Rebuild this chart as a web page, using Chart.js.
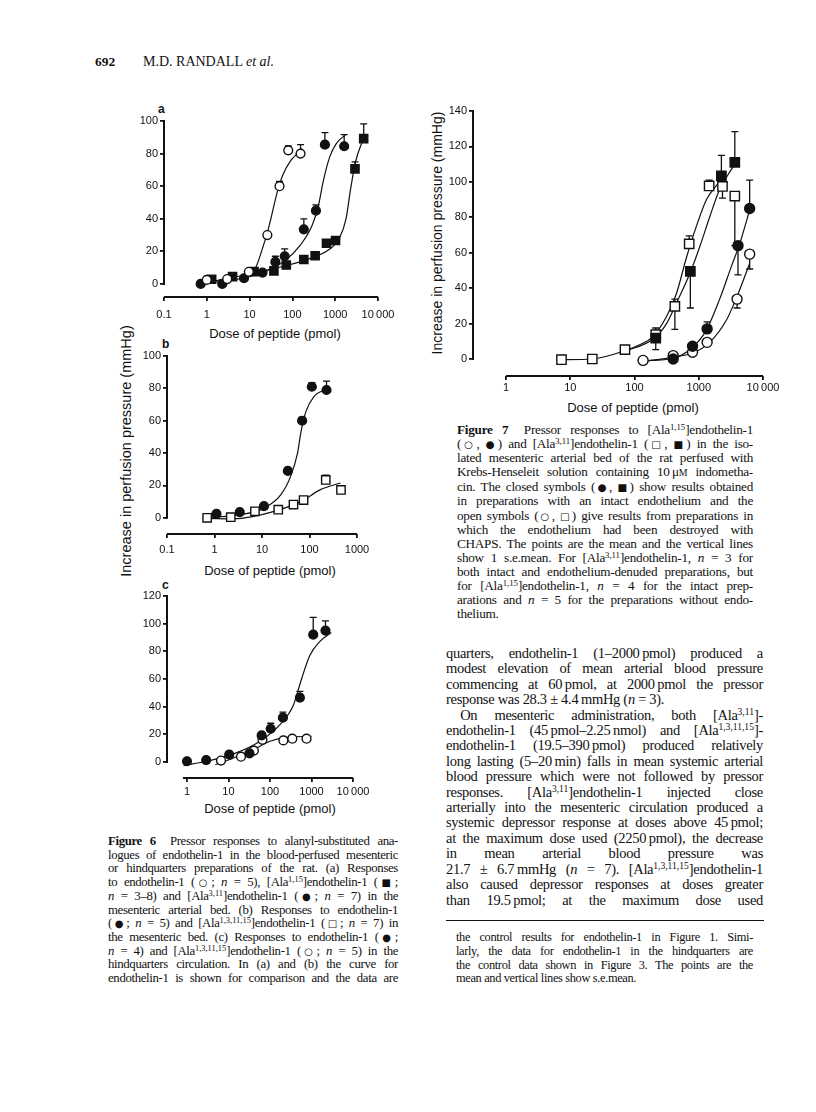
<!DOCTYPE html>
<html>
<head>
<meta charset="utf-8">
<title>Randall et al. p.692</title>
<script src="https://cdn.jsdelivr.net/npm/chart.js@4.4.0/dist/chart.umd.min.js"></script>
<style>
body { margin: 0; background: #fff; }
#page { position: relative; width: 816px; height: 1112px; overflow: hidden; background: #fff; color: #111;
        font-family: "Liberation Serif", "Times New Roman", serif; }
#page canvas { position: absolute; }
.abs { position: absolute; }
.axTitle { position: absolute; font-family: "Liberation Sans", Arial, sans-serif; font-size: 13px; white-space: nowrap; text-align: center; }
.yTitle { transform: rotate(-90deg); }
.panelTag { position: absolute; font-family: "Liberation Sans", Arial, sans-serif; font-weight: bold; font-size: 12px; }
.block div { white-space: nowrap; text-align: justify; text-align-last: justify; }
.block div.last { text-align-last: left; }
.block sup { font-size: 0.66em; line-height: 0; vertical-align: 0.48em; letter-spacing: 0; }
.sym { font-family: "DejaVu Sans", sans-serif; font-size: 0.78em; letter-spacing: 0; }
.sc { font-size: 0.75em; }
</style>
</head>
<body>
<div id="page">

  <!-- running head -->
  <div class="abs" style="left:95px; top:54px; font-size:13.5px; font-weight:bold;">692</div>
  <div class="abs" style="left:143px; top:54px; font-size:14px;">M.D. RANDALL <i>et al.</i></div>

  <!-- figure 6 labels -->
  <div class="panelTag" style="left:158px; top:102px;">a</div>
  <div class="panelTag" style="left:162px; top:337px;">b</div>
  <div class="panelTag" style="left:162px; top:578px;">c</div>
  <div class="axTitle" style="left:190px; top:326px; width:170px;">Dose of peptide (pmol)</div>
  <div class="axTitle" style="left:185px; top:563px; width:170px;">Dose of peptide (pmol)</div>
  <div class="axTitle" style="left:185px; top:801px; width:170px;">Dose of peptide (pmol)</div>
  <div class="axTitle yTitle" style="left:-24px; top:443px; width:300px; font-size:14.5px;">Increase in perfusion pressure (mmHg)</div>

  <!-- figure 7 labels -->
  <div class="axTitle" style="left:548px; top:400px; width:170px;">Dose of peptide (pmol)</div>
  <div class="axTitle yTitle" style="left:287px; top:225px; width:300px; font-size:14px;">Increase in perfusion pressure (mmHg)</div>

  <!-- figure 6 legend -->
  <div class="block abs" style="left:108px; top:835px; width:290px; font-size:12.8px; letter-spacing:-0.35px; line-height:13.7px;">
    <div><b>Figure 6</b>&ensp; Pressor responses to alanyl-substituted ana-</div>
    <div>logues of endothelin-1 in the blood-perfused mesenteric</div>
    <div>or hindquarters preparations of the rat. (a) Responses</div>
    <div>to endothelin-1 (<span class="sym">○</span>; <i>n</i> = 5), [Ala<sup>1,15</sup>]endothelin-1 (<span class="sym">■</span>;</div>
    <div><i>n</i> = 3–8) and [Ala<sup>3,11</sup>]endothelin-1 (<span class="sym">●</span>; <i>n</i> = 7) in the</div>
    <div>mesenteric arterial bed. (b) Responses to endothelin-1</div>
    <div>(<span class="sym">●</span>; <i>n</i> = 5) and [Ala<sup>1,3,11,15</sup>]endothelin-1 (<span class="sym">□</span>; <i>n</i> = 7) in</div>
    <div>the mesenteric bed. (c) Responses to endothelin-1 (<span class="sym">●</span>;</div>
    <div><i>n</i> = 4) and [Ala<sup>1,3,11,15</sup>]endothelin-1 (<span class="sym">○</span>; <i>n</i> = 5) in the</div>
    <div>hindquarters circulation. In (a) and (b) the curve for</div>
    <div>endothelin-1 is shown for comparison and the data are</div>
  </div>

  <!-- figure 7 legend -->
  <div class="block abs" style="left:457px; top:423px; width:296px; font-size:13.2px; letter-spacing:-0.25px; line-height:14.1px;">
    <div><b>Figure 7</b>&ensp; Pressor responses to [Ala<sup>1,15</sup>]endothelin-1</div>
    <div>(<span class="sym">○</span>, <span class="sym">●</span>) and [Ala<sup>3,11</sup>]endothelin-1 (<span class="sym">□</span>, <span class="sym">■</span>) in the iso-</div>
    <div>lated mesenteric arterial bed of the rat perfused with</div>
    <div>Krebs-Henseleit solution containing 10&#8201;μ<span class="sc">M</span> indometha-</div>
    <div>cin. The closed symbols (<span class="sym">●</span>, <span class="sym">■</span>) show results obtained</div>
    <div>in preparations with an intact endothelium and the</div>
    <div>open symbols (<span class="sym">○</span>, <span class="sym">□</span>) give results from preparations in</div>
    <div>which the endothelium had been destroyed with</div>
    <div>CHAPS. The points are the mean and the vertical lines</div>
    <div>show 1 s.e.mean. For [Ala<sup>3,11</sup>]endothelin-1, <i>n</i> = 3 for</div>
    <div>both intact and endothelium-denuded preparations, but</div>
    <div>for [Ala<sup>1,15</sup>]endothelin-1, <i>n</i> = 4 for the intact prep-</div>
    <div>arations and <i>n</i> = 5 for the preparations without endo-</div>
    <div class="last">thelium.</div>
  </div>

  <!-- running text -->
  <div class="block abs" style="left:446px; top:646px; width:317px; font-size:14.5px; letter-spacing:-0.3px; line-height:15.4px;">
    <div>quarters, endothelin-1 (1–2000&#8201;pmol) produced a</div>
    <div>modest elevation of mean arterial blood pressure</div>
    <div>commencing at 60&#8201;pmol, at 2000&#8201;pmol the pressor</div>
    <div class="last">response was 28.3 ± 4.4&#8201;mmHg (<i>n</i> = 3).</div>
    <div>&emsp;On mesenteric administration, both [Ala<sup>3,11</sup>]-</div>
    <div>endothelin-1 (45&#8201;pmol–2.25&#8201;nmol) and [Ala<sup>1,3,11,15</sup>]-</div>
    <div>endothelin-1 (19.5–390&#8201;pmol) produced relatively</div>
    <div>long lasting (5–20&#8201;min) falls in mean systemic arterial</div>
    <div>blood pressure which were not followed by pressor</div>
    <div>responses. [Ala<sup>3,11</sup>]endothelin-1 injected close</div>
    <div>arterially into the mesenteric circulation produced a</div>
    <div>systemic depressor response at doses above 45&#8201;pmol;</div>
    <div>at the maximum dose used (2250&#8201;pmol), the decrease</div>
    <div>in mean arterial blood pressure was</div>
    <div>21.7 ± 6.7&#8201;mmHg (<i>n</i> = 7). [Ala<sup>1,3,11,15</sup>]endothelin-1</div>
    <div>also caused depressor responses at doses greater</div>
    <div>than 19.5&#8201;pmol; at the maximum dose used</div>
  </div>
  <div class="abs" style="left:446px; top:920px; width:318px; height:0; border-top:1px solid #111;"></div>

  <!-- footnote continuing figure 6 legend -->
  <div class="block abs" style="left:456px; top:931px; width:297px; font-size:12.4px; letter-spacing:-0.35px; line-height:13.8px;">
    <div>the control results for endothelin-1 in Figure 1. Simi-</div>
    <div>larly, the data for endothelin-1 in the hindquarters are</div>
    <div>the control data shown in Figure 3. The points are the</div>
    <div class="last">mean and vertical lines show s.e.mean.</div>
  </div>
</div>

<script>
// ===== Figure 6a : mesenteric bed =====
const a_xTicks = [0.1, 1, 10, 100, 1000, 10000];
const a_xLabels = ['0.1', '1', '10', '100', '1000', '10\u2009000'];
const a_yTicks = [0, 20, 40, 60, 80, 100];

// endothelin-1 (open circles)
const a_et1Dose = [1, 3, 9.6, 26, 50, 80, 155];
const a_et1Mean = [2.5, 3, 7.5, 30, 60, 82, 80];
const a_et1Sem = [0, 0, 0, 0, 3, 2.7, 5.5];
// [Ala1,15]endothelin-1 (filled squares)
const a_ala115Dose = [1.3, 4, 12.7, 37, 72, 185, 340, 625, 1020, 2900, 4630];
const a_ala115Mean = [2.9, 4.5, 7.6, 8, 11.6, 15, 17.3, 25, 26.7, 70.6, 89.2];
const a_ala115Sem = [0, 0, 0, 0, 0, 0, 0, 0, 0, 4.3, 9];
// [Ala3,11]endothelin-1 (filled circles)
const a_ala311Dose = [0.72, 2.3, 7.4, 20, 40, 66, 185, 355, 575, 1620];
const a_ala311Mean = [0, 0, 3.5, 7, 13.5, 17, 33.5, 45, 85.5, 84.5];
const a_ala311Sem = [0, 0, 0, 0, 3.5, 4.5, 6.5, 3.5, 7.4, 7.1];

// fitted curves
const a_et1CurveDose = [10.5, 13.6, 19, 27.5, 46, 60, 93, 131, 165];
const a_et1CurveVal = [7.5, 9.6, 20, 34, 58, 67, 76, 80, 83];
const a_ala311CurveDose = [0.72, 2, 6.8, 23, 65, 155, 290, 405, 525, 745, 1050, 1740];
const a_ala311CurveVal = [0.5, 1.5, 3.5, 7.5, 14, 24, 36, 48, 63, 78, 86, 91.6];
const a_ala115CurveDose = [1.2, 4, 13.6, 65, 262, 745, 1250, 1790, 2300, 2990, 4240, 4900];
const a_ala115CurveVal = [1.4, 4, 7, 11, 15.7, 21.4, 28, 40, 58.6, 75, 87, 91];

// ===== Figure 6b : mesenteric bed =====
const b_xTicks = [0.1, 1, 10, 100, 1000];
const b_xLabels = ['0.1', '1', '10', '100', '1000'];
const b_yTicks = [0, 20, 40, 60, 80, 100];

// endothelin-1 (filled circles)
const b_et1Dose = [1.1, 3.4, 11, 35, 70, 112, 228];
const b_et1Mean = [2.5, 3.5, 7.2, 29, 60, 81, 79];
const b_et1Sem = [0, 0, 0, 0, 2, 2.5, 5.5];
// [Ala1,3,11,15]endothelin-1 (open squares)
const b_ala4Dose = [0.7, 2.2, 7.1, 22, 46, 75, 220, 460];
const b_ala4Mean = [0, 0.4, 4, 5, 8.2, 11, 23.4, 17.2];
const b_ala4Sem = [0, 0, 0, 0, 0, 0, 3, 0];

const b_et1CurveDose = [0.85, 3.6, 11.2, 25, 40, 56, 66, 84, 125, 238];
const b_et1CurveVal = [0.2, 2, 6, 14.3, 25.6, 40, 53, 65.6, 75, 80];
const b_ala4CurveDose = [0.7, 2.6, 5.9, 18, 66, 170, 450];
const b_ala4CurveVal = [-0.4, -0.6, 0.6, 4, 10, 17.4, 21.5];

// ===== Figure 6c : hindquarters =====
const c_xTicks = [1, 10, 100, 1000, 10000];
const c_xLabels = ['1', '10', '100', '1000', '10\u2009000'];
const c_yTicks = [0, 20, 40, 60, 80, 100, 120];

// endothelin-1 (filled circles)
const c_et1Dose = [1, 2.9, 10.4, 32, 63, 104, 205, 525, 1100, 2170];
const c_et1Mean = [0.5, 1.4, 5.3, 6.2, 19.2, 24, 32, 46.5, 92, 95];
const c_et1Sem = [0, 0, 0, 0, 0, 4, 4, 4.5, 12.5, 7];
// [Ala1,3,11,15]endothelin-1 (open circles)
const c_ala4Dose = [6.6, 20, 41, 66, 210, 345, 760];
const c_ala4Mean = [1, 3.8, 8.2, 16, 15.6, 16.8, 16.8];
const c_ala4Sem = [0, 0, 0, 0, 0, 2, 2];

const c_et1CurveDose = [0.83, 3, 13.2, 57.5, 174, 365, 575, 910, 1580, 3000];
const c_et1CurveVal = [-2.6, 0.5, 5.8, 15, 27, 41, 60, 77, 87, 93.6];
const c_ala4CurveDose = [4.8, 13.2, 40, 100, 250, 1000];
const c_ala4CurveVal = [-2, 2.9, 8.9, 15, 17.8, 18.5];

// ===== Figure 7 : isolated mesenteric bed =====
const f7_xTicks = [1, 10, 100, 1000, 10000];
const f7_xLabels = ['1', '10', '100', '1000', '10\u2009000'];
const f7_yTicks = [0, 20, 40, 60, 80, 100, 120, 140];

// [Ala1,15]endothelin-1, denuded (open circles)
const f7_ala115OpenDose = [136, 400, 800, 1350, 3950, 6200];
const f7_ala115OpenMean = [-0.8, 1.9, 3.8, 9.4, 33.8, 59.2];
const f7_ala115OpenSemDown = [0, 0, 0, 0, 5, 8.4];
// [Ala1,15]endothelin-1, intact (filled circles)
const f7_ala115FilledDose = [400, 800, 1350, 4080, 6200];
const f7_ala115FilledMean = [0, 7.2, 17, 64, 85];
const f7_ala115FilledSemUp = [0, 0, 4, 0, 16];
const f7_ala115FilledSemDown = [0, 0, 0, 16.5, 0];
// [Ala3,11]endothelin-1, denuded (open squares)
const f7_ala311OpenDose = [7.3, 22, 71, 214, 425, 710, 1450, 2340, 3640];
const f7_ala311OpenMean = [-0.4, 0, 5.3, 13.7, 29.7, 65, 97.7, 97.4, 92];
const f7_ala311OpenSemUp = [0, 0, 0, 3.8, 4.1, 4.5, 3.3, 0, 0];
const f7_ala311OpenSemDown = [0, 0, 0, 0, 13, 0, 0, 6.6, 28];
// [Ala3,11]endothelin-1, intact (filled squares)
const f7_ala311FilledDose = [214, 740, 2250, 3640];
const f7_ala311FilledMean = [11.8, 49.4, 103.4, 111];
const f7_ala311FilledSemUp = [0, 0, 11.6, 17.4];
const f7_ala311FilledSemDown = [6.5, 20.6, 0, 0];

const f7_sqOpenCurveDose = [7.3, 22, 71, 120, 195, 315, 450, 640, 920, 1320, 1890, 2400];
const f7_sqOpenCurveVal = [-0.4, 0, 4.7, 8, 12.8, 24, 37, 57, 75, 90, 98, 102];
const f7_sqFilledCurveDose = [71, 195, 315, 450, 740, 1040, 1475, 2100, 2850, 3640];
const f7_sqFilledCurveVal = [4.3, 11.3, 20, 31.6, 49, 63.5, 80, 95.5, 104, 110];
const f7_ciFilledCurveDose = [136, 400, 810, 1300, 2100, 3200, 4370, 6200];
const f7_ciFilledCurveVal = [-1, 0.4, 6.8, 16, 33.5, 52, 65.4, 84];
const f7_ciOpenCurveDose = [136, 400, 810, 1480, 2700, 3850, 5200, 6200];
const f7_ciOpenCurveVal = [-1.5, 1.1, 3.4, 9.4, 22, 34.4, 46.6, 54];

// ---- common styling ----
const INK = '#111';
const TICK_FONT = { family: "'Liberation Sans', Arial, sans-serif", size: 11 };

function toXY(xs, ys) {
    return xs.map((x, i) => ({ x: x, y: ys[i] }));
}

// measured points: open/filled circles and squares
function points(xs, ys, style, filled, radius, semUp, semDown) {
    return {
        type: 'scatter',
        data: toXY(xs, ys),
        pointStyle: style,
        pointRadius: radius,
        pointHoverRadius: radius,
        pointBackgroundColor: filled ? INK : '#fff',
        pointBorderColor: INK,
        pointBorderWidth: 1.4,
        semUp: semUp || null,
        semDown: semDown || null,
        order: 0,
        clip: false
    };
}

// fitted line drawn through the traced points
function curve(xs, ys) {
    return {
        type: 'line',
        data: toXY(xs, ys),
        borderColor: INK,
        borderWidth: 1.2,
        pointRadius: 0,
        fill: false,
        cubicInterpolationMode: 'monotone',
        order: 5,
        clip: false
    };
}

// s.e.mean bars with a small cap, drawn just before each point set
const errorBars = {
    id: 'errorBars',
    beforeDatasetDraw(chart, args) {
        const ds = chart.data.datasets[args.index];
        if (!ds.semUp && !ds.semDown) return;
        const ctx = chart.ctx;
        const xs = chart.scales.x, ys = chart.scales.y;
        ctx.save();
        ctx.strokeStyle = INK;
        ctx.lineWidth = 1.3;
        ds.data.forEach((pt, i) => {
            [[ds.semUp, 1], [ds.semDown, -1]].forEach(([arr, dir]) => {
                const e = arr ? arr[i] : 0;
                if (!e) return;
                const px = xs.getPixelForValue(pt.x);
                const y0 = ys.getPixelForValue(pt.y);
                const y1 = ys.getPixelForValue(pt.y + dir * e);
                ctx.beginPath();
                ctx.moveTo(px, y0);
                ctx.lineTo(px, y1);
                ctx.moveTo(px - 3.5, y1);
                ctx.lineTo(px + 3.5, y1);
                ctx.stroke();
            });
        });
        ctx.restore();
    }
};

// detached axis lines (y from 0 to top tick, x across the dose range)
const axisLines = {
    id: 'axisLines',
    beforeDatasetsDraw(chart, args, opts) {
        const ctx = chart.ctx;
        const xs = chart.scales.x, ys = chart.scales.y;
        const area = chart.chartArea;
        ctx.save();
        ctx.strokeStyle = INK;
        ctx.lineWidth = 2;
        ctx.beginPath();
        ctx.moveTo(area.left, ys.getPixelForValue(opts.yLine[0]) + 1);
        ctx.lineTo(area.left, ys.getPixelForValue(opts.yLine[1]) - 1);
        ctx.moveTo(xs.getPixelForValue(opts.xLine[0]), area.bottom);
        ctx.lineTo(xs.getPixelForValue(opts.xLine[1]), area.bottom);
        ctx.stroke();
        ctx.restore();
    }
};

// one panel = one canvas; box is the canvas rect, area is the wanted plot rect (page px)
function makePanel(p) {
    const page = document.getElementById('page');
    const cv = document.createElement('canvas');
    cv.width = p.box[2];
    cv.height = p.box[3];
    cv.style.left = p.box[0] + 'px';
    cv.style.top = p.box[1] + 'px';
    page.appendChild(cv);

    const yw = 30, xh = 26;
    const pad = {
        left: p.area.left - p.box[0] - yw,
        top: p.area.top - p.box[1],
        right: p.box[0] + p.box[2] - p.area.right,
        bottom: p.box[1] + p.box[3] - p.area.bottom - xh
    };

    return new Chart(cv.getContext('2d'), {
        type: 'scatter',
        data: { datasets: p.datasets },
        options: {
            responsive: false,
            animation: false,
            devicePixelRatio: 1,
            layout: { padding: pad },
            events: [],
            plugins: {
                legend: { display: false },
                tooltip: { enabled: false },
                axisLines: { xLine: p.xLine, yLine: p.yLine }
            },
            scales: {
                x: {
                    type: 'logarithmic',
                    bounds: 'data',
                    min: p.xMin,
                    max: p.xMax,
                    afterBuildTicks: s => { s.ticks = p.xTicks.map(v => ({ value: v, major: true })); },
                    afterFit: s => { s.height = xh; s.paddingLeft = 0; s.paddingRight = 0; },
                    ticks: {
                        autoSkip: false,
                        maxRotation: 0,
                        color: INK,
                        font: TICK_FONT,
                        padding: p.xPad,
                        callback: (v, i) => p.xLabels[i]
                    },
                    grid: { drawOnChartArea: false, drawTicks: true, tickLength: 4, color: INK, lineWidth: 1.8 },
                    border: { display: false }
                },
                y: {
                    type: 'linear',
                    bounds: 'data',
                    min: p.yMin,
                    max: p.yMax,
                    afterBuildTicks: s => { s.ticks = p.yTicks.map(v => ({ value: v })); },
                    afterFit: s => { s.width = yw; s.paddingTop = 0; s.paddingBottom = 0; },
                    ticks: {
                        color: INK,
                        font: TICK_FONT,
                        padding: 2,
                        callback: v => String(v)
                    },
                    grid: { drawOnChartArea: false, drawTicks: true, tickLength: 4, color: INK, lineWidth: 1.8 },
                    border: { display: false }
                }
            }
        },
        plugins: [axisLines, errorBars]
    });
}

function initPanels() {
    const charts = [];

    // Figure 6a
    charts.push(makePanel({
        box: [120, 95, 285, 245],
        area: { left: 164, right: 378, top: 121, bottom: 297 },
        xMin: 0.1, xMax: 10000, yMin: -8, yMax: 100,
        xLine: [0.1, 10000], yLine: [0, 100], xPad: 7,
        xTicks: a_xTicks, xLabels: a_xLabels, yTicks: a_yTicks,
        datasets: [
            points(a_et1Dose, a_et1Mean, 'circle', false, 4.4, a_et1Sem),
            points(a_ala311Dose, a_ala311Mean, 'circle', true, 4.4, a_ala311Sem),
            points(a_ala115Dose, a_ala115Mean, 'rect', true, 5.8, a_ala115Sem),
            curve(a_et1CurveDose, a_et1CurveVal),
            curve(a_ala311CurveDose, a_ala311CurveVal),
            curve(a_ala115CurveDose, a_ala115CurveVal)
        ]
    }));

    // Figure 6b
    charts.push(makePanel({
        box: [120, 335, 285, 240],
        area: { left: 167, right: 357, top: 356, bottom: 534 },
        xMin: 0.1, xMax: 1000, yMin: -10, yMax: 100,
        xLine: [0.1, 1000], yLine: [0, 100], xPad: 5,
        xTicks: b_xTicks, xLabels: b_xLabels, yTicks: b_yTicks,
        datasets: [
            points(b_et1Dose, b_et1Mean, 'circle', true, 4.4, b_et1Sem),
            points(b_ala4Dose, b_ala4Mean, 'rect', false, 5.9, b_ala4Sem),
            curve(b_et1CurveDose, b_et1CurveVal),
            curve(b_ala4CurveDose, b_ala4CurveVal)
        ]
    }));

    // Figure 6c
    charts.push(makePanel({
        box: [120, 575, 285, 240],
        area: { left: 167, right: 353, top: 596, bottom: 778 },
        xMin: 0.33, xMax: 10000, yMin: -11.6, yMax: 120,
        xLine: [0.8, 10000], yLine: [0, 120], xPad: 3,
        xTicks: c_xTicks, xLabels: c_xLabels, yTicks: c_yTicks,
        datasets: [
            points(c_et1Dose, c_et1Mean, 'circle', true, 4.4, c_et1Sem),
            points(c_ala4Dose, c_ala4Mean, 'circle', false, 4.4, c_ala4Sem, c_ala4Sem),
            curve(c_et1CurveDose, c_et1CurveVal),
            curve(c_ala4CurveDose, c_ala4CurveVal)
        ]
    }));

    // Figure 7
    charts.push(makePanel({
        box: [425, 85, 380, 325],
        area: { left: 473, right: 763, top: 111, bottom: 376 },
        xMin: 0.306, xMax: 10000, yMin: -9.6, yMax: 140,
        xLine: [1, 10000], yLine: [0, 140], xPad: 1,
        xTicks: f7_xTicks, xLabels: f7_xLabels, yTicks: f7_yTicks,
        datasets: [
            points(f7_ala311FilledDose, f7_ala311FilledMean, 'rect', true, 6.6, f7_ala311FilledSemUp, f7_ala311FilledSemDown),
            points(f7_ala115FilledDose, f7_ala115FilledMean, 'circle', true, 5, f7_ala115FilledSemUp, f7_ala115FilledSemDown),
            points(f7_ala311OpenDose, f7_ala311OpenMean, 'rect', false, 6.6, f7_ala311OpenSemUp, f7_ala311OpenSemDown),
            points(f7_ala115OpenDose, f7_ala115OpenMean, 'circle', false, 5, null, f7_ala115OpenSemDown),
            curve(f7_sqOpenCurveDose, f7_sqOpenCurveVal),
            curve(f7_sqFilledCurveDose, f7_sqFilledCurveVal),
            curve(f7_ciFilledCurveDose, f7_ciFilledCurveVal),
            curve(f7_ciOpenCurveDose, f7_ciOpenCurveVal)
        ]
    }));

    return charts;
}

document.addEventListener('DOMContentLoaded', function() {
    window.pageCharts = initPanels();
});
</script>
</body>
</html>
